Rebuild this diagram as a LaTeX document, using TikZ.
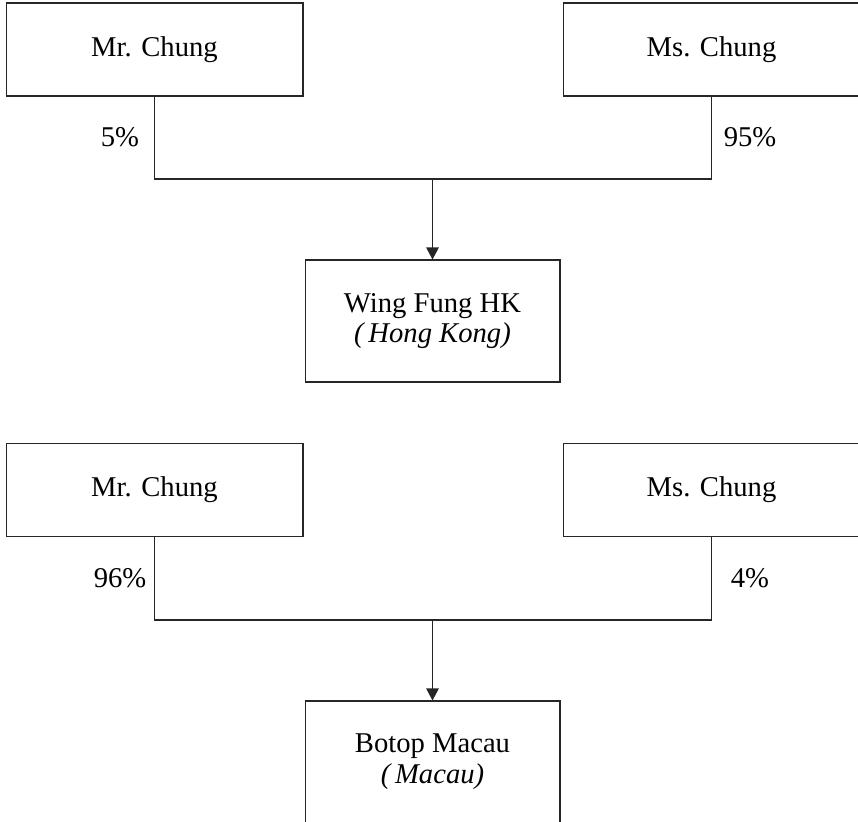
\documentclass[tikz,border=0pt]{standalone}
\usepackage{fontspec}
\setmainfont{Liberation Serif}
\usetikzlibrary{arrows.meta}
\usetikzlibrary{positioning}
\usetikzlibrary{calc}

\begin{document}
\begin{tikzpicture}[x=0.02cm,y=-0.02cm,
  owner/.style={rectangle, inner sep=0.0mm, minimum width=5.94cm,
    minimum height=1.86cm, draw=black!85, line width=0.6pt,
    font=\fontsize{16.3}{17.5}\selectfont},
  company/.style={owner, minimum width=5.1cm, minimum height=2.44cm,
    align=center},
  pct/.style={inner sep=0.0mm, font=\fontsize{16.3}{17.5}\selectfont},
  link/.style={draw=black!85, line width=0.6pt}]

  \useasboundingbox (0,0) rectangle (858,821);
  \clip (0,0) rectangle (858,821);

  % Hong Kong holding
  \node[owner] at (154.5,49.5) (mrA) {Mr. Chung};
  \node[owner] at (711.5,49.5) (msA) {Ms. Chung};
  \node[company] at (432.5,321) (wing)
  {Wing Fung HK\\ \textit{(\,Hong Kong)}};

  % Macau holding
  \node[owner] at (154.5,490) (mrB) {Mr. Chung};
  \node[owner] at (711.5,490) (msB) {Ms. Chung};
  \node[company] at (432.5,762) (botop)
  {Botop Macau\\ \textit{(\,Macau)}};

\coordinate (jA) at (wing.north |- 0,179);
\coordinate (jB) at (botop.north |- 0,620);

  \draw[link] (mrA.south) |- (jA) -| (msA.south);
  \draw[link,-{Triangle[length=0.24cm,width=0.25cm]}] (jA) -- (wing.north);
  \draw[link] (mrB.south) |- (jB) -| (msB.south);
  \draw[link,-{Triangle[length=0.24cm,width=0.25cm]}] (jB) -- (botop.north);

\node[pct] (pA1) at (120,137.5) {5\%};
\node[pct] (pA2) at (750,137.5) {95\%};
\node[pct] (pB1) at (120,578) {96\%};
\node[pct] (pB2) at (750,578) {4\%};

\end{tikzpicture}
\end{document}
